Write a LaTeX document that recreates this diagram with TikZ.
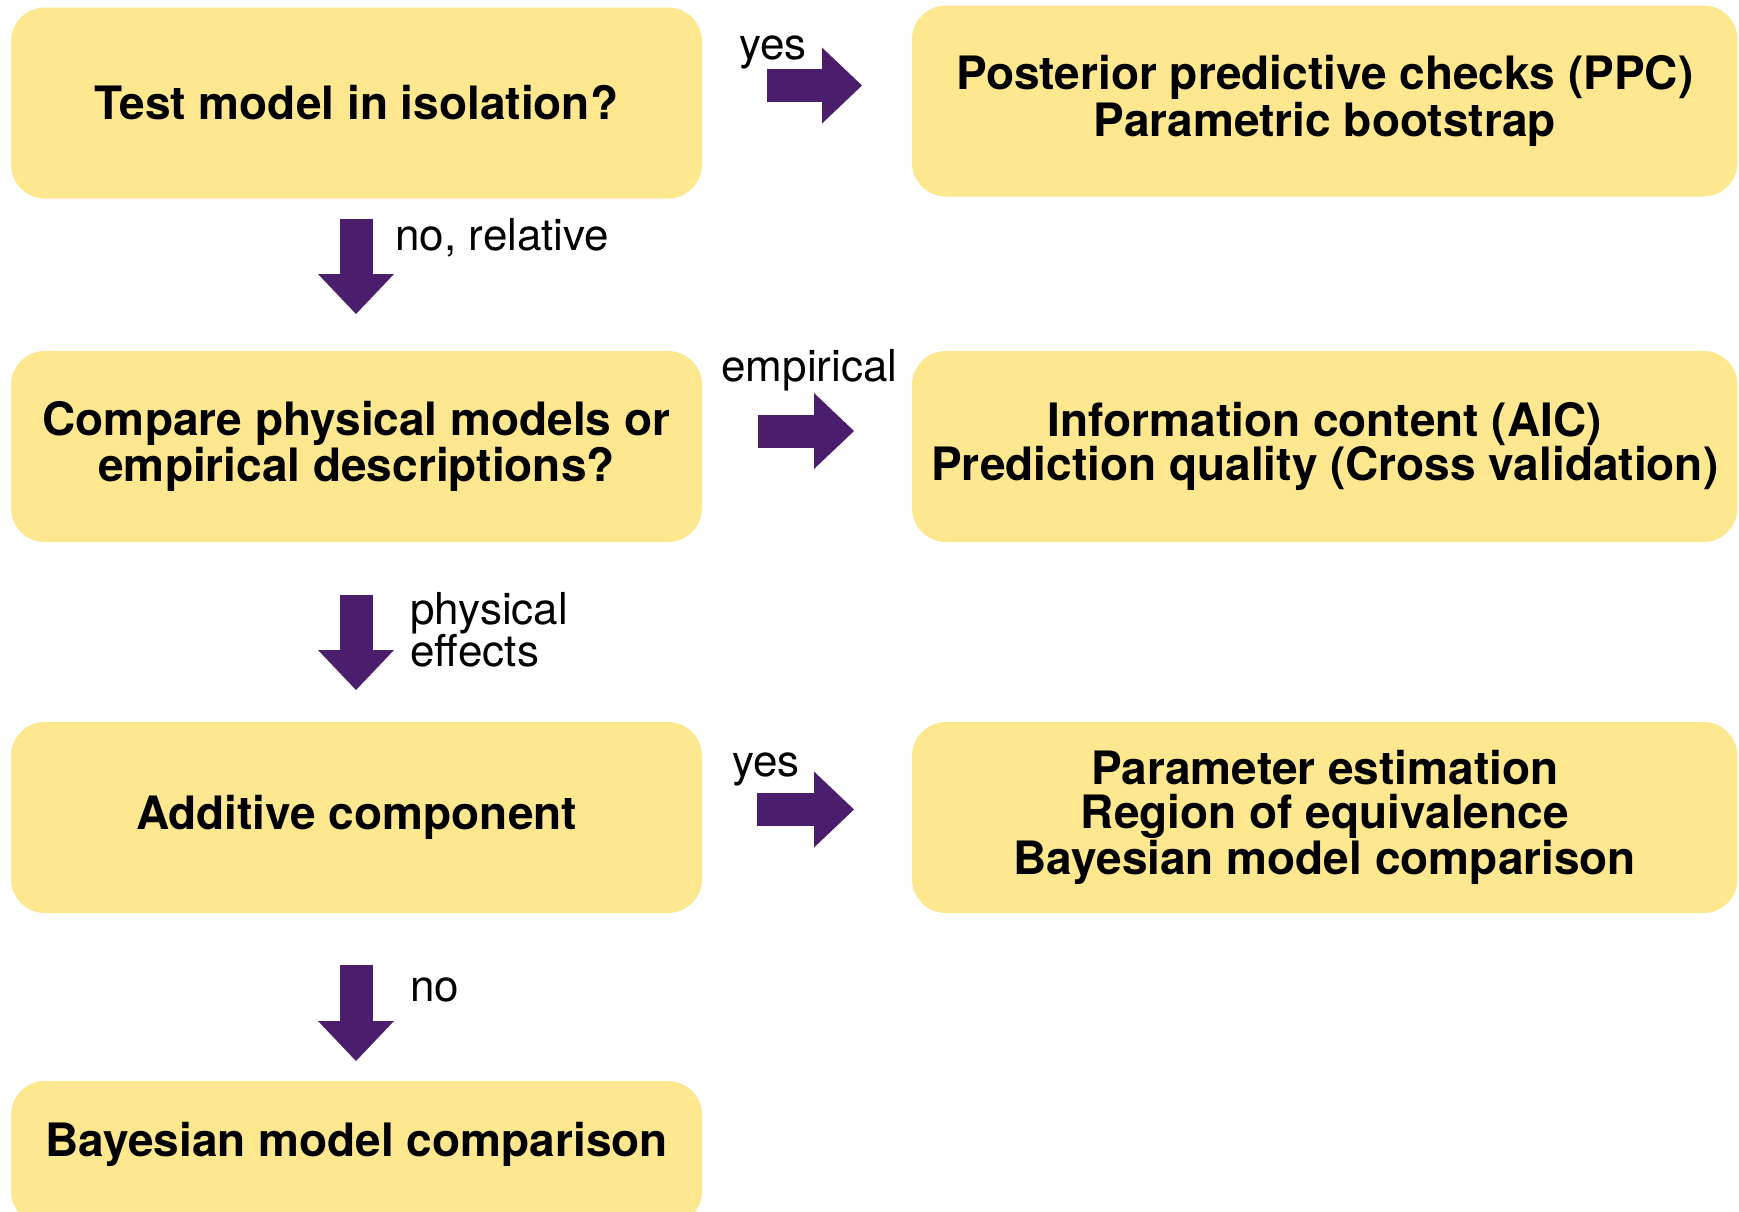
\documentclass[tikz,border=0pt]{standalone}
\usepackage{fontspec}
\setmainfont{TeX Gyre Heros}
\usetikzlibrary{arrows.meta}
\definecolor{boxyellow}{RGB}{253,231,143}
\definecolor{arrowpurple}{RGB}{74,30,108}
\tikzset{
  leftbox/.style={rectangle, rounded corners=17pt, fill=boxyellow, draw=none,
    minimum width=345.5pt, minimum height=95.5pt, align=center, inner sep=0pt,
    font=\bfseries\fontsize{23pt}{22pt}\selectfont},
  rightbox/.style={leftbox, minimum width=412.75pt},
  blockarrow/.style={draw=arrowpurple, line width=16.5pt,
    -{Triangle[length=20pt, width=38pt, line width=0pt, fill=arrowpurple]}},
  branchlabel/.style={anchor=base west, inner sep=0pt, align=left,
    font=\fontsize{22pt}{21pt}\selectfont}
}
\begin{document}
\begin{tikzpicture}[x=0.5pt, y=-0.5pt]
  \useasboundingbox (0,0) rectangle (1739,1211);
  \clip (0,0) rectangle (1739,1211);

  % question column
  \node[leftbox] (isolation) at (356.5,103) {Test model in isolation?};
  \node[leftbox] (compare) at (356.5,446.5) {Compare physical models or\\empirical descriptions?};
  \node[leftbox] (additive) at (356.5,817.5) {Additive component};
  % last box runs past the lower page edge; extra depth lifts its text
  \node[leftbox, minimum height=72pt, text depth=13.3pt] (bmc) at (356.5,1153) {Bayesian model comparison};

  % method column
  \node[rightbox] (ppc) at (1324.75,101) {Posterior predictive checks (PPC)\\Parametric bootstrap};
  \node[rightbox] (aic) at (1324.75,446.5) {Information content (AIC)\\Prediction quality (Cross validation)};
  \node[rightbox] (est) at (1324.75,817.5) {Parameter estimation\\Region of equivalence\\Bayesian model comparison};

  % arrow end points
  \coordinate (r1s) at (767,85.5);  \coordinate (r1e) at (862,85.5);
  \coordinate (r2s) at (758,431);   \coordinate (r2e) at (854,431);
  \coordinate (r3s) at (757,809.5); \coordinate (r3e) at (854,809.5);
  \coordinate (d1s) at (356,219);   \coordinate (d1e) at (356,314);
  \coordinate (d2s) at (356,595);   \coordinate (d2e) at (356,690);
  \coordinate (d3s) at (356,965);   \coordinate (d3e) at (356,1061);

  \draw[blockarrow] (r1s) -- (r1e);
  \draw[blockarrow] (r2s) -- (r2e);
  \draw[blockarrow] (r3s) -- (r3e);
  \draw[blockarrow] (d1s) -- (d1e);
  \draw[blockarrow] (d2s) -- (d2e);
  \draw[blockarrow] (d3s) -- (d3e);

  % branch labels
  \node[branchlabel] (lyes1) at (739,59) {yes};
  \node[branchlabel] (lrel) at (395,250) {no, relative};
  \node[branchlabel] (lemp) at (721,381) {empirical};
  \node[branchlabel] (lphys) at (410,666) {physical\\effects};
  \node[branchlabel] (lyes2) at (732,776) {yes};
  \node[branchlabel] (lno) at (410,1001) {no};
\end{tikzpicture}
\end{document}
